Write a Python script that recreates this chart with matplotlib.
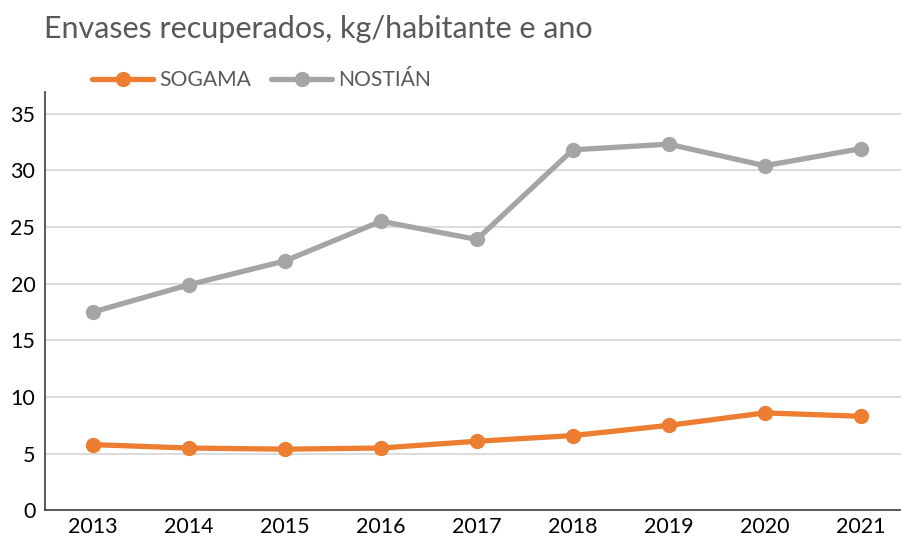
import matplotlib.pyplot as plt
import numpy as np

plt.rcParams["font.family"] = ["Lato", "DejaVu Sans"]

years = ["2013", "2014", "2015", "2016", "2017", "2018", "2019", "2020", "2021"]
sogama = [5.8, 5.5, 5.4, 5.5, 6.1, 6.6, 7.5, 8.6, 8.3]
nostian = [17.5, 19.9, 22.0, 25.5, 23.9, 31.8, 32.3, 30.4, 31.9]

W, H = 901, 539
fig = plt.figure(figsize=(W / 100, H / 100), dpi=100)
ax = fig.add_axes([45 / W, (H - 510.4) / H, (908.7 - 45) / W, (510.4 - 92) / H])

x = np.arange(len(years))
ax.plot(x, sogama, color="#ED7D31", lw=3.8, marker="o", ms=10, label="SOGAMA",
        solid_capstyle="round", zorder=3)
ax.plot(x, nostian, color="#A5A5A5", lw=3.8, marker="o", ms=10, label="NOSTIÁN",
        solid_capstyle="round", zorder=3)

ax.set_xlim(-0.5, len(years) - 0.5)
ax.set_ylim(0, 36.9)
ax.set_yticks(range(0, 36, 5))
ax.set_xticks(x)
ax.set_xticklabels(years)
ax.tick_params(length=0, labelsize=15.5, colors="#000000", pad=5)
ax.tick_params(axis="y", pad=7)
ax.grid(axis="y", color="#D9D9D9", lw=1.3)
ax.set_axisbelow(True)
for s in ["top", "right"]:
    ax.spines[s].set_visible(False)
for s in ["left", "bottom"]:
    ax.spines[s].set_color("#404040")
    ax.spines[s].set_linewidth(1.2)

fig.text(44 / W, 1 - 29 / H, "Envases recuperados, kg/habitante e ano",
         fontsize=22, color="#595959", va="center", ha="left")

leg = fig.legend(loc="center left", bbox_to_anchor=(92 / W, 1 - 80 / H), ncol=2,
                 frameon=False, fontsize=15.2, handlelength=2.9, handletextpad=0.28,
                 columnspacing=0.95, borderaxespad=0, borderpad=0)
for t in leg.get_texts():
    t.set_color("#595959")

fig.savefig("out.png", dpi=100)
